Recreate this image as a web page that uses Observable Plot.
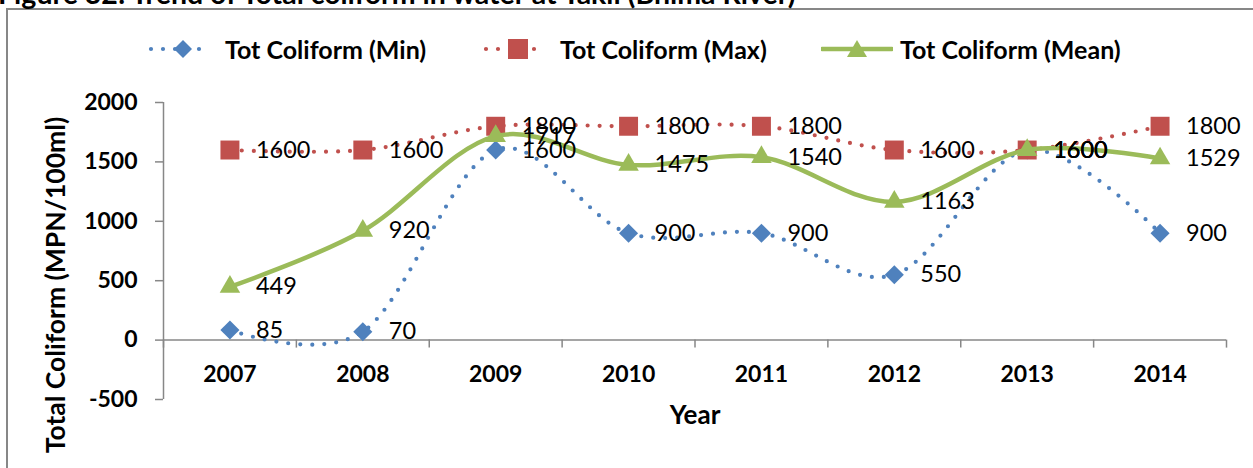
<!DOCTYPE html>
<html><head><meta charset="utf-8">
<script src="https://cdn.jsdelivr.net/npm/d3@7"></script>
<script src="https://cdn.jsdelivr.net/npm/@observablehq/plot@0.6"></script>
<style>
body{margin:0;background:#fff;}
#wrap{position:relative;width:1253px;height:468px;overflow:hidden;font-family:Lato,sans-serif;color:#000;}
#title{position:absolute;left:-2px;top:-21px;font-weight:bold;font-size:28.5px;line-height:28px;white-space:nowrap;}
#frame{position:absolute;left:6px;top:8px;width:1300px;height:520px;border:2px solid #878787;box-sizing:border-box;}
.item{position:absolute;top:34px;height:30px;display:flex;align-items:center;font-weight:bold;font-size:25px;white-space:nowrap;}
.item svg{display:block;}
#chart{position:absolute;left:0;top:80px;}
#ytitle{position:absolute;left:55px;top:285px;transform:translate(-50%,-50%) rotate(-90deg);font-weight:bold;font-size:26.5px;white-space:nowrap;}
</style></head>
<body>
<div id="wrap">
  <div id="frame"></div>
  <div id="title">Figure 32: Trend of Total coliform in water at Takli (Bhima River)</div>
  <div id="legend"></div>
  <div id="chart"></div>
  <div id="ytitle">Total Coliform (MPN/100ml)</div>
</div>
<script>
const years = [2007, 2008, 2009, 2010, 2011, 2012, 2013, 2014];
const minVals = [85, 70, 1600, 900, 900, 550, 1600, 900];
const maxVals = [1600, 1600, 1800, 1800, 1800, 1600, 1600, 1800];
const meanVals = [449, 920, 1717, 1475, 1540, 1163, 1600, 1529];
const yTicks = [-500, 0, 500, 1000, 1500, 2000];
const seriesNames = ["Tot Coliform (Min)", "Tot Coliform (Max)", "Tot Coliform (Mean)"];
const seriesKeys = ["min", "max", "mean"];
const colors = ["#4F81BD", "#C0504D", "#9BBB59"];
const symbols = ["diamond2", "square", "triangle"];
const yTitle = "Total Coliform (MPN/100ml)";
const xTitle = "Year";

const rows = years.map((year, i) => ({year, min: minVals[i], max: maxVals[i], mean: meanVals[i]}));
const xLo = d3.min(years) - 0.5, xHi = d3.max(years) + 0.5;
const bounds = d3.range(xLo, xHi + 0.01, 1);
const gray = "#878787";

// legend
const legendX = [148, 483, 821];
const legend = document.getElementById("legend");
seriesNames.forEach((name, k) => {
  const div = document.createElement("div");
  div.className = "item";
  div.style.left = legendX[k] + "px";
  const w = k === 2 ? 72 : 64;
  let marker = "";
  if (k === 0) marker = `<path d="M35,3 L44,12 L35,21 L26,12 Z" fill="${colors[0]}"/>`;
  if (k === 1) marker = `<rect x="25" y="2" width="20" height="20" fill="${colors[1]}"/>`;
  if (k === 2) marker = `<path d="M36,3 L46,20 L26,20 Z" fill="${colors[2]}"/>`;
  const line = k === 2
    ? `<line x1="1" y1="12" x2="71" y2="12" stroke="${colors[2]}" stroke-width="4.5" stroke-linecap="round"/>`
    : `<line x1="3" y1="12" x2="63" y2="12" stroke="${colors[k]}" stroke-width="4.2" stroke-dasharray="0 12" stroke-linecap="round"/>`;
  div.innerHTML = `<svg width="${w}" height="24">${line}${marker}</svg><span style="margin-left:${k === 2 ? 7 : 13}px">${name}</span>`;
  legend.appendChild(div);
});

const marks = [
  Plot.ruleX([xLo], {stroke: gray, strokeWidth: 1.5}),
  Plot.ruleY([0], {stroke: gray, strokeWidth: 1.5}),
  Plot.ruleX(bounds, {y1: 0, y2: 0, insetTop: 8, insetBottom: 0, stroke: gray, strokeWidth: 1.5})
];
seriesKeys.forEach((key, k) => {
  if (k < 2) {
    marks.push(Plot.line(rows, {x: "year", y: key, stroke: colors[k], strokeWidth: 4.2,
      strokeDasharray: "0 12", strokeLinecap: "round", curve: "cardinal"}));
  } else {
    marks.push(Plot.line(rows, {x: "year", y: key, stroke: colors[k], strokeWidth: 4.5,
      strokeLinejoin: "round", curve: "cardinal"}));
  }
  const r = k === 0 ? 8.6 : k === 1 ? 10.7 : 7.6;
  marks.push(Plot.dot(rows, {x: "year", y: key, symbol: () => symbols[k], r, fill: colors[k], stroke: "none"}));
});
seriesKeys.forEach((key, k) => {
  marks.push(Plot.text(rows, {x: "year", y: key, text: d => String(d[key]), dx: 26, textAnchor: "start",
    fontSize: 23.5, fontWeight: "normal", fill: "#000"}));
});
marks.push(Plot.text(years, {x: d => d, y: 0, text: d => String(d), dy: 35, fontWeight: "bold", fontSize: 23, fill: "#000"}));
marks.push(Plot.text([xTitle], {frameAnchor: "bottom", text: d => d, dy: 24, fontWeight: "bold", fontSize: 26, fill: "#000"}));

const chart = Plot.plot({
  width: 1253,
  height: 388,
  marginLeft: 163,
  marginRight: 27,
  marginTop: 22,
  marginBottom: 69,
  x: {domain: [xLo, xHi], axis: null},
  y: {domain: [-500, 2000], ticks: yTicks, tickSize: 8, tickPadding: 18, label: null, tickFormat: d => String(d)},
  symbol: {type: "identity"},
  style: {fontFamily: "Lato, sans-serif", fontSize: "23px", fontWeight: "bold", color: "#000", background: "transparent", overflow: "visible"},
  marks
});
document.getElementById("chart").appendChild(chart);
d3.select(chart).selectAll('[aria-label^="y-axis"] line, [aria-label^="y-axis"] path').attr("stroke", gray).attr("stroke-width", 1.5);
</script>
</body></html>
